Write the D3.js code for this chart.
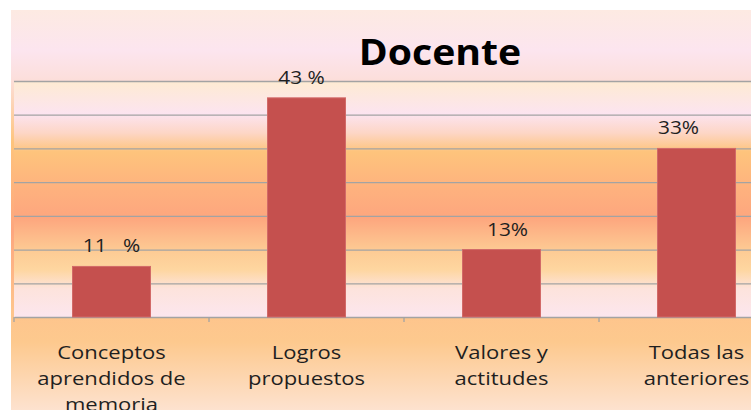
<!DOCTYPE html>
<html>
<head>
<meta charset="utf-8">
<script src="https://cdn.jsdelivr.net/npm/d3@7"></script>
<style>
  body { margin: 0; background: #fff; }
  svg { display: block; }
  text { font-family: "Open Sans", sans-serif; fill: #1f1f1f; }
</style>
</head>
<body>
<div id="chart"></div>
<script>
// data (bar heights are counts, labels were typed by hand)
var categories = ["Conceptos aprendidos de memoria", "Logros propuestos", "Valores y actitudes", "Todas las anteriores"];
var counts = [3, 13, 4, 10];
var valueLabels = ["11   %", "43 %", "13%", "33%"];
var yTicks = [0, 2, 4, 6, 8, 10, 12, 14];
var title = "Docente";

// label nudges as in the original (hand placed)
var labelDx = [0, -5, 6, -18];

var W = 751, H = 410;
var plot = {left: 14, right: 794, top: 81, bottom: 317};
var stretch = 1.16; // source picture is a bit wider than tall

var svg = d3.select("#chart").append("svg")
  .attr("width", W)
  .attr("height", H);

var defs = svg.append("defs");

function addGradient(id, stops){
  var g = defs.append("linearGradient")
    .attr("id", id)
    .attr("x1", 0).attr("y1", 0).attr("x2", 0).attr("y2", 1);
  stops.forEach(function(s){
    g.append("stop").attr("offset", s[0]).attr("stop-color", s[1]);
  });
}

addGradient("outerBg", [
  [0, "#fdeae2"], [0.1, "#fce5ef"], [0.17, "#fcdfdc"], [0.33, "#fec47c"],
  [0.55, "#fda67e"], [0.75, "#fec48c"], [0.83, "#fdc98e"], [1, "#fde2cf"]
]);
addGradient("plotBg", [
  [0, "#feebd2"], [0.14, "#fce4f0"], [0.22, "#fdd6c6"], [0.3, "#fec47c"],
  [0.45, "#feb27e"], [0.58, "#fda67e"], [0.72, "#fdcb94"], [0.8, "#fed6a0"],
  [0.88, "#fde3dc"], [1, "#fce6ee"]
]);

svg.append("rect")
  .attr("x", 11).attr("y", 10)
  .attr("width", W - 11).attr("height", H - 10)
  .attr("fill", "url(#outerBg)");

var x = d3.scaleBand()
  .domain(categories)
  .range([plot.left, plot.right])
  .paddingInner(0)
  .paddingOuter(0);

var barW = x.bandwidth() * 0.4;

var y = d3.scaleLinear()
  .domain([0, d3.max(yTicks)])
  .range([plot.bottom, plot.top]);

svg.append("rect")
  .attr("x", plot.left).attr("y", plot.top)
  .attr("width", plot.right - plot.left)
  .attr("height", plot.bottom - plot.top)
  .attr("fill", "url(#plotBg)");

// gridlines
var grid = d3.axisLeft(y)
  .tickValues(yTicks.slice(1))
  .tickSize(-(plot.right - plot.left))
  .tickFormat("");

svg.append("g")
  .attr("class", "grid")
  .attr("transform", "translate(" + plot.left + ",0)")
  .call(grid)
  .call(function(g){
    g.select(".domain").remove();
    g.selectAll("line").attr("stroke", "#a3a3a3").attr("stroke-width", 1.3);
  });

// category axis with ticks between the bands
var xAxis = d3.axisBottom(x).tickSize(0).tickFormat("");
var axisG = svg.append("g")
  .attr("transform", "translate(0," + plot.bottom + ")")
  .call(xAxis);
axisG.select(".domain").attr("stroke", "#a3a3a3").attr("stroke-width", 1.3);

axisG.selectAll(".sep")
  .data(categories)
  .enter().append("line")
  .attr("class", "sep")
  .attr("x1", function(d){ return x(d); })
  .attr("x2", function(d){ return x(d); })
  .attr("y1", 0).attr("y2", 5)
  .attr("stroke", "#a3a3a3").attr("stroke-width", 1.3);

// bars
svg.selectAll(".bar")
  .data(counts)
  .enter().append("rect")
  .attr("class", "bar")
  .attr("x", function(d, i){ return x(categories[i]) + (x.bandwidth() - barW) / 2; })
  .attr("y", function(d){ return y(d); })
  .attr("width", barW)
  .attr("height", function(d){ return y(0) - y(d); })
  .attr("fill", "#c5504e")
  .attr("stroke", "#d26a68")
  .attr("stroke-width", 1);

// value labels
svg.selectAll(".vlabel")
  .data(counts)
  .enter().append("text")
  .attr("class", "vlabel")
  .attr("transform", function(d, i){
    var cx = x(categories[i]) + x.bandwidth() / 2 + labelDx[i];
    return "translate(" + cx + "," + (y(d) - 14) + ") scale(" + stretch + ",1)";
  })
  .attr("text-anchor", "middle")
  .style("font-size", "18px")
  .style("white-space", "pre")
  .text(function(d, i){ return valueLabels[i]; });

// category labels, wrapped
function wrap(textSel, width){
  textSel.each(function(){
    var t = d3.select(this);
    var words = t.text().split(/\s+/);
    t.text(null);
    var line = [];
    var tspan = t.append("tspan").attr("x", 0).attr("dy", 0);
    words.forEach(function(w){
      line.push(w);
      tspan.text(line.join(" "));
      if(tspan.node().getComputedTextLength() > width && line.length > 1){
        line.pop();
        tspan.text(line.join(" "));
        line = [w];
        tspan = t.append("tspan").attr("x", 0).attr("dy", "26px").text(w);
      }
    });
  });
}

svg.selectAll(".clabel")
  .data(categories)
  .enter().append("text")
  .attr("class", "clabel")
  .attr("transform", function(d){
    return "translate(" + (x(d) + x.bandwidth() / 2) + ",359) scale(" + stretch + ",1)";
  })
  .attr("text-anchor", "middle")
  .style("font-size", "19px")
  .text(function(d){ return d; })
  .call(wrap, 165 / stretch);

// title
svg.append("text")
  .attr("transform", "translate(440,65) scale(1.12,1)")
  .attr("text-anchor", "middle")
  .style("font-size", "35px")
  .style("font-weight", "bold")
  .style("fill", "#000")
  .text(title);
</script>
</body>
</html>
